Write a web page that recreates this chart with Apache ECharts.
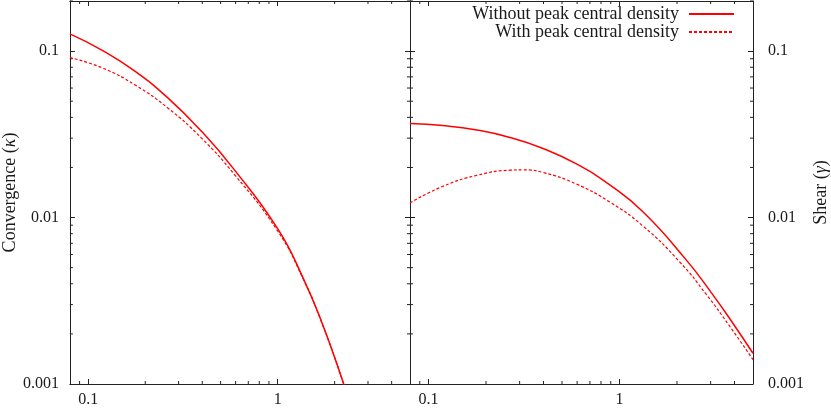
<!DOCTYPE html>
<html>
<head>
<meta charset="utf-8">
<script src="https://cdn.jsdelivr.net/npm/echarts@6/dist/echarts.min.js"></script>
<style>
html,body{margin:0;padding:0;background:#fff;}
#main{width:831px;height:408px;}
</style>
</head>
<body>
<div id="main"></div>
<script>
// legend names
var seriesNames = ['Without peak central density', 'With peak central density'];

// left panel: convergence
var kappaNoPeakX = [0.08, 0.1186, 0.177, 0.264, 0.395, 0.59, 1.0, 1.356, 1.72, 2.24, 2.6];
var kappaNoPeakY = [0.127, 0.1011, 0.0755, 0.0522, 0.0331, 0.0194, 0.00857, 0.00439, 0.00231, 0.00099, 0.00059];
var kappaPeakX = [0.08, 0.1186, 0.177, 0.264, 0.395, 0.59, 1.0, 1.356, 1.72, 2.24, 2.6];
var kappaPeakY = [0.0914, 0.0793, 0.0625, 0.0454, 0.0301, 0.0182, 0.0083, 0.00435, 0.0023, 0.00099, 0.00059];

// right panel: shear
var gammaNoPeakX = [0.08, 0.119, 0.179, 0.267, 0.398, 0.595, 0.889, 1.33, 2.24, 3.03, 3.93, 5];
var gammaNoPeakY = [0.0367, 0.0357, 0.0336, 0.0303, 0.026, 0.021, 0.0157, 0.0108, 0.00555, 0.00353, 0.00231, 0.00153];
var gammaPeakX = [0.08, 0.119, 0.179, 0.267, 0.313, 0.398, 0.595, 0.889, 1.33, 2.07, 2.85, 3.77, 5];
var gammaPeakY = [0.01224, 0.01541, 0.01792, 0.01925, 0.01934, 0.01866, 0.01589, 0.01239, 0.00887, 0.0054, 0.00345, 0.00223, 0.0014];

// ticks
var xTickValues = [0.1, 1];
var xTickLabels = ['0.1', '1'];
var yTickValues = [0.001, 0.01, 0.1];
var yTickLabels = ['0.001', '0.01', '0.1'];
var xMinorTicks = [0.09, 0.2, 0.3, 0.4, 0.5, 0.6, 0.7, 0.8, 0.9, 2, 3, 4];
var yMinorTicks = [0.002, 0.003, 0.004, 0.005, 0.006, 0.007, 0.008, 0.009,
	0.02, 0.03, 0.04, 0.05, 0.06, 0.07, 0.08, 0.09, 0.2];

var xMin = 0.08, xMax = 5, yMin = 0.001, yMax = 0.2;
var font = 'Liberation Serif';
var axisColor = '#222';
var textColor = '#1a1a1a';

function zip(xs, ys){
	return xs.map(function(x, i){ return [x, ys[i]]; });
}
function pickLabel(values, labels){
	return function(v){
		for (var i = 0; i < values.length; i++) {
			if (Math.abs(Math.log10(v / values[i])) < 1e-6) return labels[i];
		}
		return '';
	};
}

function xAxis(grid, pos, show){
	return {
		type: 'log', gridIndex: grid, position: pos, min: xMin, max: xMax,
		axisLine: {show: true, onZero: false, lineStyle: {color: axisColor, width: 1}},
		axisTick: {show: true, inside: true, length: 5, lineStyle: {color: axisColor}},
		splitLine: {show: false},
		axisLabel: {show: show, margin: 8, color: textColor, fontFamily: font, fontSize: 16,
			formatter: pickLabel(xTickValues, xTickLabels)}
	};
}
function yAxis(grid, pos, show, name, gap, margin){
	return {
		type: 'log', gridIndex: grid, position: pos, min: yMin, max: yMax,
		name: name, nameLocation: 'middle', nameGap: gap, nameRotate: 90,
		nameTextStyle: {color: textColor, fontFamily: font, fontSize: 18,
			rich: {i: {fontStyle: 'italic', fontFamily: font, fontSize: 18, color: textColor}}},
		axisLine: {show: true, onZero: false, lineStyle: {color: axisColor, width: 1}},
		axisTick: {show: true, inside: true, length: 5, lineStyle: {color: axisColor}},
		splitLine: {show: false},
		axisLabel: {show: show, margin: margin, color: textColor, fontFamily: font, fontSize: 16,
			formatter: pickLabel(yTickValues, yTickLabels)}
	};
}

// short minor ticks on all four sides of a panel
function minorX(xi, yi){
	return {
		type: 'custom', xAxisIndex: xi, yAxisIndex: yi, silent: true, clip: false,
		data: xMinorTicks.map(function(v){ return [v, yMin]; }),
		renderItem: function(params, api){
			var x = api.coord([api.value(0), yMin])[0];
			var yb = api.coord([xMin, yMin])[1];
			var yt = api.coord([xMin, yMax])[1];
			var st = {stroke: axisColor, lineWidth: 1};
			return {type: 'group', children: [
				{type: 'line', shape: {x1: x, y1: yb, x2: x, y2: yb - 3}, style: st},
				{type: 'line', shape: {x1: x, y1: yt, x2: x, y2: yt + 3}, style: st}
			]};
		}
	};
}
function minorY(xi, yi){
	return {
		type: 'custom', xAxisIndex: xi, yAxisIndex: yi, silent: true, clip: false,
		data: yMinorTicks.map(function(v){ return [xMin, v]; }),
		renderItem: function(params, api){
			var y = api.coord([xMin, api.value(1)])[1];
			var xl = api.coord([xMin, yMin])[0];
			var xr = api.coord([xMax, yMin])[0];
			var st = {stroke: axisColor, lineWidth: 1};
			return {type: 'group', children: [
				{type: 'line', shape: {x1: xl, y1: y, x2: xl + 3, y2: y}, style: st},
				{type: 'line', shape: {x1: xr, y1: y, x2: xr - 3, y2: y}, style: st}
			]};
		}
	};
}

function curve(name, xi, yi, data, dashed){
	return {
		name: name, type: 'line', xAxisIndex: xi, yAxisIndex: yi,
		data: data, smooth: 0.5, symbol: 'none', clip: true,
		lineStyle: {color: '#ff0000', width: dashed ? 1.2 : 1.5, type: dashed ? [3, 2] : 'solid'},
		itemStyle: {color: '#ff0000'}
	};
}

var chart = echarts.init(document.getElementById('main'));
var option = {
	animation: false,
	backgroundColor: '#fff',
	grid: [
		{left: 67, top: 1, width: 343, height: 386},
		{left: 410, top: 1, width: 344, height: 386}
	],
	legend: {
		orient: 'vertical', right: 91, top: 0, align: 'right',
		itemWidth: 45, itemHeight: 14, itemGap: 0,
		itemStyle: {opacity: 0},
		textStyle: {color: textColor, fontFamily: font, fontSize: 18, padding: [0, 5, 0, 0]},
		data: seriesNames
	},
	xAxis: [
		xAxis(0, 'bottom', true),
		xAxis(0, 'top', false),
		xAxis(1, 'bottom', true),
		xAxis(1, 'top', false)
	],
	yAxis: [
		yAxis(0, 'left', true, 'Convergence ({i|κ})', 46, 11),
		yAxis(0, 'right', false, '', 0, 0),
		yAxis(1, 'left', false, '', 0, 0),
		yAxis(1, 'right', true, 'Shear ({i|γ})', 59, 15)
	],
	series: [
		curve(seriesNames[0], 0, 0, zip(kappaNoPeakX, kappaNoPeakY), false),
		curve(seriesNames[1], 0, 0, zip(kappaPeakX, kappaPeakY), true),
		curve(seriesNames[0], 2, 3, zip(gammaNoPeakX, gammaNoPeakY), false),
		curve(seriesNames[1], 2, 3, zip(gammaPeakX, gammaPeakY), true),
		minorX(0, 0), minorY(0, 0),
		minorX(2, 3), minorY(2, 3)
	]
};
chart.setOption(option);
window.addEventListener('resize', function(){
	chart.resize();
});
</script>
</body>
</html>
